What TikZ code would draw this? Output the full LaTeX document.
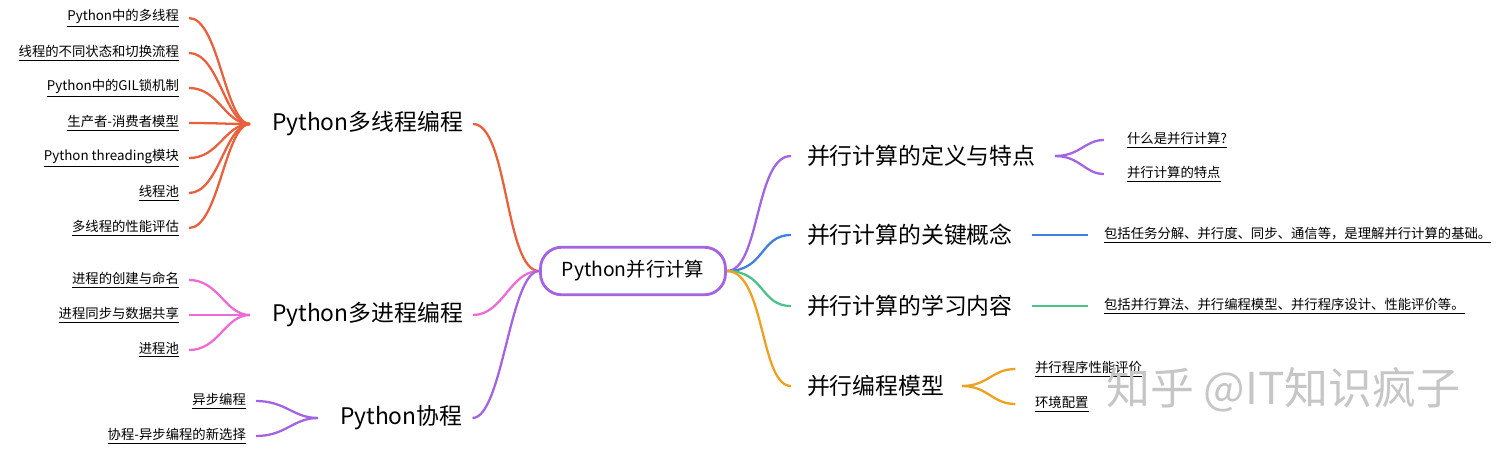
\documentclass[tikz,border=0pt]{standalone}
\usepackage{fontspec}
\setmainfont{Noto Sans CJK SC}
\usetikzlibrary{positioning}
\definecolor{cOrg}{HTML}{E8603C}
\definecolor{cPink}{HTML}{EC6BD6}
\definecolor{cPur}{HTML}{A463E0}
\definecolor{cBlue}{HTML}{3F7FE0}
\definecolor{cGrn}{HTML}{4CC28A}
\definecolor{cYel}{HTML}{EEA020}
\tikzset{
  leaf/.style={font=\fontsize{7.6}{9}\selectfont, inner sep=1pt},
  branch/.style={font=\fontsize{13}{15}\selectfont, inner sep=1pt},
  edge/.style={line width=1.3pt}
}
\newcommand{\ul}[1]{\underline{#1}}
\begin{document}
\begin{tikzpicture}[x=0.02cm,y=-0.02cm]
  \useasboundingbox (0,0) rectangle (1509,454);
  %% root
  \node[draw=cPur, line width=1.6pt, rounded corners=12pt, minimum width=3.7cm,
        minimum height=0.95cm, font=\fontsize{11}{13}\selectfont] (root) at (633,271) {Python并行计算};

  %% left: threads
  \node[branch, anchor=west] (thr) at (270,124) {Python多线程编程};
  \coordinate (jthr) at (250,124);
  \foreach \t [count=\i] in {Python中的多线程,线程的不同状态和切换流程,Python中的GIL锁机制,
      生产者-消费者模型,Python threading模块,线程池,多线程的性能评估} {
    \node[leaf, anchor=east] (thr\i) at (181,{18+35*(\i-1)}) {\ul{\t}};
    \draw[edge, cOrg] (thr\i.east) ++(8,0) .. controls +(30,0) and (225,124) .. (jthr);
  }
  \draw[edge, cOrg] (thr.east) ++(8,0) .. controls +(35,0) and (505,271) .. (root.west);

  %% left: processes
  \node[branch, anchor=west] (prc) at (270,315) {Python多进程编程};
  \coordinate (jprc) at (250,315);
  \foreach \t [count=\i] in {进程的创建与命名,进程同步与数据共享,进程池} {
    \node[leaf, anchor=east] (prc\i) at (181,{280+35*(\i-1)}) {\ul{\t}};
    \draw[edge, cPink] (prc\i.east) ++(8,0) .. controls +(30,0) and (225,315) .. (jprc);
  }
  \draw[edge, cPink] (prc.east) ++(8,0) .. controls +(30,0) and (510,271) .. (root.west);

  %% left: coroutines
  \node[branch, anchor=west] (cor) at (338,418) {Python协程};
  \coordinate (jcor) at (318,418);
  \foreach \t [count=\i] in {异步编程,协程-异步编程的新选择} {
    \node[leaf, anchor=east] (cor\i) at (248,{401+35*(\i-1)}) {\ul{\t}};
    \draw[edge, cPur] (cor\i.east) ++(8,0) .. controls +(30,0) and (293,418) .. (jcor);
  }
  \draw[edge, cPur] (cor.east) ++(8,0) .. controls +(30,0) and (510,271) .. (root.west);

  %% right: definition
  \node[branch, anchor=west] (dfn) at (805,156) {并行计算的定义与特点};
  \coordinate (jdfn) at (1055,156);
  \foreach \t [count=\i] in {什么是并行计算?,并行计算的特点} {
    \node[leaf, anchor=west] (dfn\i) at (1125,{140+34*(\i-1)}) {\ul{\t}};
    \draw[edge, cPur] (jdfn) .. controls (1080,156) and (1085,{140+34*(\i-1)}) .. ([xshift=-12pt]dfn\i.west);
  }
  \draw[edge, cPur] (root.east) .. controls (760,271) and (755,156) .. ([xshift=-8]dfn.west);

  %% right: key concepts
  \node[branch, anchor=west] (key) at (805,235) {并行计算的关键概念};
  \node[leaf, anchor=west] (key1) at (1102,235) {\ul{包括任务分解、并行度、同步、通信等，是理解并行计算的基础。}};
  \draw[edge, cBlue] ([xshift=-40pt]key1.west) -- ([xshift=-8pt]key1.west);
  \draw[edge, cBlue] (root.east) .. controls (765,271) and (760,235) .. ([xshift=-8]key.west);

  %% right: learning contents
  \node[branch, anchor=west] (lrn) at (805,306) {并行计算的学习内容};
  \node[leaf, anchor=west] (lrn1) at (1102,306) {\ul{包括并行算法、并行编程模型、并行程序设计、性能评价等。}};
  \draw[edge, cGrn] ([xshift=-40pt]lrn1.west) -- ([xshift=-8pt]lrn1.west);
  \draw[edge, cGrn] (root.east) .. controls (765,271) and (760,306) .. ([xshift=-8]lrn.west);

  %% right: models
  \node[branch, anchor=west] (mdl) at (805,386) {并行编程模型};
  \coordinate (jmdl) at (962,386);
  \foreach \t [count=\i] in {并行程序性能评价,环境配置} {
    \node[leaf, anchor=west] (mdl\i) at (1033,{369+35*(\i-1)}) {\ul{\t}};
    \draw[edge, cYel] (jmdl) .. controls (988,386) and (992,{369+35*(\i-1)}) .. ([xshift=-10pt]mdl\i.west);
  }
  \draw[edge, cYel] (root.east) .. controls (765,271) and (760,386) .. ([xshift=-8]mdl.west);

  %% watermark
  \node[font=\fontsize{25}{27}\selectfont, text=gray!45, anchor=west] (wm) at (1100,390) {知乎 @IT知识疯子};
\end{tikzpicture}
\end{document}
